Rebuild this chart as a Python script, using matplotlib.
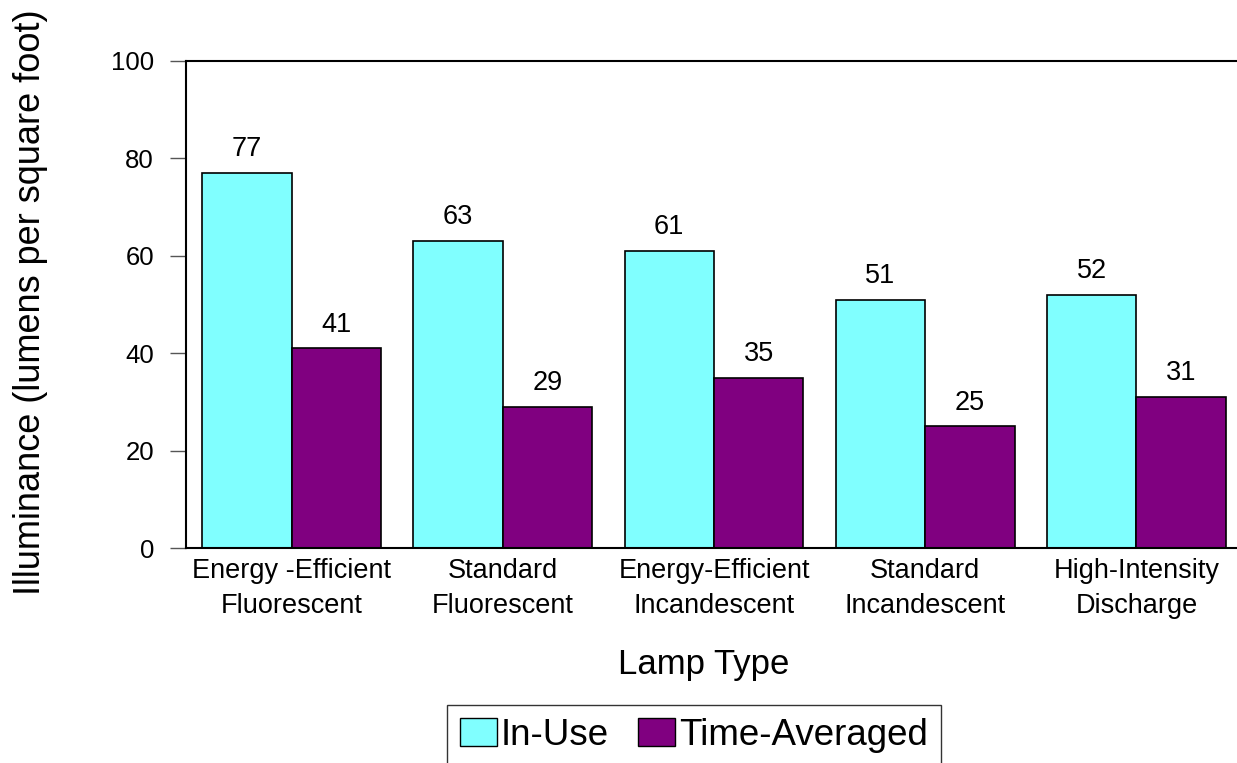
import numpy as np
import matplotlib.pyplot as plt
from matplotlib.patches import Patch

plt.rcParams['font.family'] = ['Liberation Sans', 'DejaVu Sans']

# lamp categories and illuminance readings
lamp_types = ['Energy -Efficient\nFluorescent', 'Standard\nFluorescent',
              'Energy-Efficient\nIncandescent', 'Standard\nIncandescent',
              'High-Intensity\nDischarge']
in_use = [77, 63, 61, 51, 52]
time_averaged = [41, 29, 35, 25, 31]
series_names = ['In-Use', 'Time-Averaged']

cyan = '#80FFFF'
purple = '#800080'

fig = plt.figure(figsize=(12.37, 7.63), dpi=100)
# axes runs a little past the right edge of the canvas
ax = fig.add_axes([186 / 1237, 215 / 763, 1056 / 1237, 487 / 763])

x = np.arange(len(lamp_types))
w = 0.4237
b1 = ax.bar(x - w / 2, in_use, w, color=cyan, edgecolor='black', linewidth=1.2)
b2 = ax.bar(x + w / 2, time_averaged, w, color=purple, edgecolor='black', linewidth=1.2)

for bars, vals in [(b1, in_use), (b2, time_averaged)]:
    for rect, v in zip(bars, vals):
        ax.text(rect.get_x() + rect.get_width() / 2, v + 2.2, str(v),
                ha='center', va='bottom', fontsize=19.5)

ax.set_xlim(-0.5, len(lamp_types) - 0.5)
ax.set_ylim(0, 100)
ax.set_yticks(range(0, 101, 20))
ax.set_xticks(x)
ax.set_xticklabels(lamp_types, fontsize=19.5, linespacing=1.45)
ax.tick_params(axis='x', length=0, pad=7)
ax.tick_params(axis='y', length=11.5, width=1, labelsize=18.5, pad=11.5, color='#555555')

ax.spines['right'].set_visible(False)
for s in ['left', 'bottom', 'top']:
    ax.spines[s].set_linewidth(1.5)

ax.set_ylabel('Illuminance (lumens per square foot)', fontsize=26)
ax.yaxis.set_label_coords(-0.131, 0.505)
ax.set_xlabel('Lamp Type', fontsize=25)
ax.xaxis.set_label_coords(0.49, -0.205)

handles = [Patch(facecolor=cyan, edgecolor='black'),
           Patch(facecolor=purple, edgecolor='black')]
fig.legend(handles, series_names, loc='upper center', bbox_to_anchor=(694 / 1237, 58 / 763),
           ncol=2, fontsize=26.5, frameon=True, fancybox=False, edgecolor='black',
           handlelength=1.0, handleheight=0.8, handletextpad=0.1, columnspacing=0.8,
           borderpad=0.35, borderaxespad=0)

fig.savefig('out.png', dpi=100)
